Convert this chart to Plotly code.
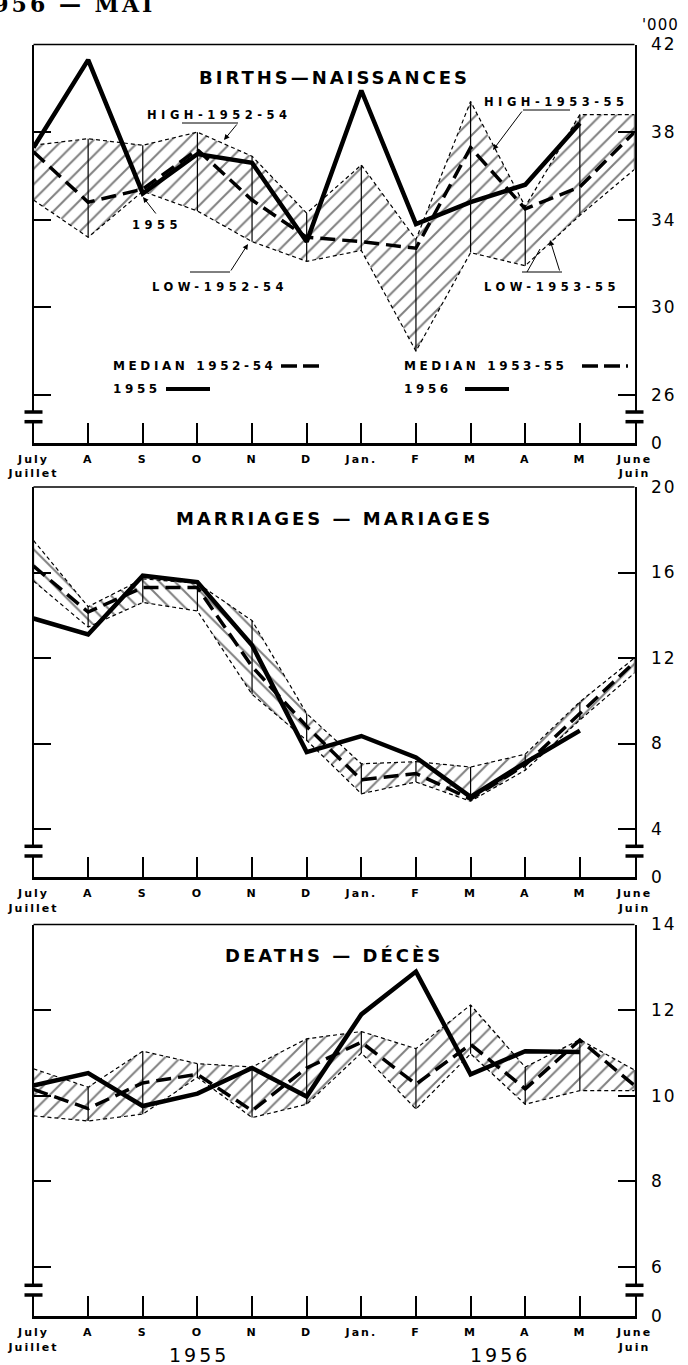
import plotly.graph_objects as go

# ---------------- data ----------------
month_labels = ["July|Juillet", "A", "S", "O", "N", "D", "Jan.", "F", "M", "A", "M", "June|Juin"]
months_x = list(range(12))

# Births ('000)
births_1955 = [37.3, 41.3, 35.2, 37.0, 36.6, 33.0]          # Jul-Dec 1955
births_1956 = [39.9, 33.8, 34.8, 35.6, 38.4]                # Jan-May 1956
births_median_5254 = [37.1, 34.8, 35.4, 37.2, 34.9, 33.2]   # Jul-Dec
births_median_5355 = [33.0, 32.7, 37.3, 34.5, 35.5, 38.0]   # Jan-Jun
births_high_5254 = [37.4, 37.7, 37.4, 38.0, 36.9, 34.3]
births_low_5254 = [34.9, 33.2, 35.3, 34.4, 33.0, 32.1]
births_high_5355 = [36.5, 33.1, 39.4, 34.6, 38.8, 38.8]
births_low_5355 = [32.6, 28.0, 32.5, 31.9, 34.2, 36.3]

# Marriages ('000)
marr_1955 = [13.85, 13.1, 15.85, 15.55, 12.6, 7.6]
marr_1956 = [8.35, 7.35, 5.5, 7.1, 8.6]
marr_median_5254 = [16.3, 14.15, 15.3, 15.3, 11.6, 8.8]
marr_median_5355 = [6.3, 6.6, 5.4, 7.0, 9.4, 11.8]
marr_high_5254 = [17.5, 14.4, 15.7, 15.5, 13.75, 9.4]
marr_low_5254 = [15.6, 13.45, 14.6, 14.2, 10.3, 8.15]
marr_high_5355 = [7.05, 7.15, 6.9, 7.5, 9.95, 12.0]
marr_low_5355 = [5.65, 6.2, 5.3, 6.75, 9.1, 11.3]

# Deaths ('000)
death_1955 = [10.24, 10.53, 9.76, 10.05, 10.65, 9.98]
death_1956 = [11.9, 12.9, 10.5, 11.04, 11.02]
death_median_5254 = [10.15, 9.7, 10.3, 10.5, 9.65, 10.65]
death_median_5355 = [11.25, 10.27, 11.2, 10.16, 11.3, 10.24]
death_high_5254 = [10.63, 10.2, 11.04, 10.75, 10.67, 11.33]
death_low_5254 = [9.53, 9.41, 9.57, 10.43, 9.49, 9.8]
death_high_5355 = [11.5, 11.1, 12.12, 10.67, 11.31, 10.6]
death_low_5355 = [11.0, 9.69, 10.98, 9.8, 10.12, 10.12]

births_ticks = [26, 30, 34, 38, 42]
marr_ticks = [4, 8, 12, 16, 20]
death_ticks = [6, 8, 10, 12, 14]

# ---------------- geometry helpers ----------------
FW, FH = 688, 1365
OFF = 0  # body margin removed in the page (see post_script)


def px(x):
    return (x - OFF) / FW


def py(y):
    return 1 - (y - OFF) / FH


def sp(t, s):
    return f'<span style="letter-spacing:{s}px">{t}</span>'


X_LEFT, X_RIGHT = 33.5, 634.5
FONT = "DejaVu Sans"

panels = [
    dict(title="BIRTHS—NAISSANCES", title_y=77, ticks=births_ticks, pt=44.5, pl=395.0, pb=442.7,
         actual=births_1955 + births_1956, median=births_median_5254 + births_median_5355,
         high=births_high_5254 + births_high_5355, low=births_low_5254 + births_low_5355,
         segs=[(0, 11, "/")]),
    dict(title="MARRIAGES — MARIAGES", title_y=518, ticks=marr_ticks, pt=487.0, pl=829.0, pb=877.0,
         actual=marr_1955 + marr_1956, median=marr_median_5254 + marr_median_5355,
         high=marr_high_5254 + marr_high_5355, low=marr_low_5254 + marr_low_5355,
         segs=[(0, 5, "\\"), (5, 11, "/")]),
    dict(title="DEATHS — DÉCÈS", title_y=956, ticks=death_ticks, pt=924.5, pl=1267.0, pb=1316.0,
         actual=death_1955 + death_1956, median=death_median_5254 + death_median_5355,
         high=death_high_5254 + death_high_5355, low=death_low_5254 + death_low_5355,
         segs=[(0, 11, "/")]),
]

fig = go.Figure()
shapes = []
annotations = []


def seg(p0, p1, w=1.0, dash="solid"):
    shapes.append(dict(type="line", xref="paper", yref="paper", x0=px(p0[0]), y0=py(p0[1]),
                       x1=px(p1[0]), y1=py(p1[1]), line=dict(color="black", width=w, dash=dash),
                       layer="above"))


def txt(x, y, t, size, bold=True, ls=0, xanchor="left", family=FONT):
    annotations.append(dict(xref="paper", yref="paper", x=px(x), y=py(y), text=sp(t, ls) if ls else t,
                            showarrow=False, xanchor=xanchor, yanchor="middle",
                            font=dict(family=family, size=size, color="black",
                                      weight="bold" if bold else "normal")))


def arrow(tip, tail):
    annotations.append(dict(xref="paper", yref="paper", x=px(tip[0]), y=py(tip[1]),
                            ax=tail[0] - tip[0], ay=tail[1] - tip[1], axref="pixel", ayref="pixel",
                            text="", showarrow=True, arrowhead=2, arrowsize=1.1, arrowwidth=1,
                            arrowcolor="black", standoff=0, startstandoff=0))


tick_month = []
for m in month_labels:
    parts = m.split("|")
    tick_month.append("<br>".join(sp(p, 2) for p in parts))

for i, p in enumerate(panels):
    n = "" if i == 0 else str(i + 1)
    xa, ya = "x" + n, "y" + n
    vt, vl = p["ticks"][-1], p["ticks"][0]
    scale = (p["pl"] - p["pt"]) / (vt - vl)
    vb = vl - (p["pb"] - p["pl"]) / scale
    p["vb"] = vb

    fig.layout["xaxis" + n] = dict(
        domain=[px(X_LEFT), px(X_RIGHT)], range=[0, 11], anchor=ya, automargin=False,
        tickvals=months_x, ticktext=tick_month, ticks="inside", ticklen=20, tickwidth=1.5,
        tickcolor="black", showline=True, linewidth=3, linecolor="black", showgrid=False,
        zeroline=False, ticklabelstandoff=4, ticklabeloverflow="allow",
        tickfont=dict(family=FONT, size=11, color="black", weight="bold"))
    fig.layout["yaxis" + n] = dict(
        domain=[py(p["pb"]), py(p["pt"])], range=[vb, vt], anchor=xa, side="right", automargin=False,
        tickvals=[vb] + p["ticks"], ticktext=[sp(str(t), 2) for t in ["0"] + [str(v) for v in p["ticks"]]],
        ticks="inside", ticklen=17, tickwidth=1.5, tickcolor="black", showline=True, linewidth=2,
        linecolor="black", mirror="ticks", showgrid=False, zeroline=False, ticklabelstandoff=11,
        ticklabeloverflow="allow",
        tickfont=dict(family=FONT, size=17, color="black"))

    # hatched band(s)
    for (a, b, shape) in p["segs"]:
        xs = months_x[a:b + 1]
        fig.add_trace(go.Scatter(x=xs, y=p["low"][a:b + 1], mode="lines", line=dict(width=0),
                                 xaxis=xa, yaxis=ya, hoverinfo="skip"))
        fig.add_trace(go.Scatter(x=xs, y=p["high"][a:b + 1], mode="lines", line=dict(width=0),
                                 fill="tonexty", fillcolor="rgba(0,0,0,0)",
                                 fillpattern=dict(shape=shape, fgcolor="black", bgcolor="rgba(0,0,0,0)",
                                                  size=11, solidity=0.18),
                                 xaxis=xa, yaxis=ya, hoverinfo="skip"))
    # band boundaries
    for arr in (p["low"], p["high"]):
        fig.add_trace(go.Scatter(x=months_x, y=arr, mode="lines",
                                 line=dict(color="black", width=1.2, dash="4px,3px"),
                                 xaxis=xa, yaxis=ya, hoverinfo="skip"))
    # vertical range lines
    vx, vy = [], []
    for k in months_x:
        vx += [k, k, None]
        vy += [p["low"][k], p["high"][k], None]
    fig.add_trace(go.Scatter(x=vx, y=vy, mode="lines", line=dict(color="black", width=1.2),
                             xaxis=xa, yaxis=ya, hoverinfo="skip"))
    # medians
    fig.add_trace(go.Scatter(x=months_x, y=p["median"], mode="lines",
                             line=dict(color="black", width=3.5, dash="15px,7px"),
                             xaxis=xa, yaxis=ya, hoverinfo="skip"))
    # actual
    fig.add_trace(go.Scatter(x=months_x[:len(p["actual"])], y=p["actual"], mode="lines",
                             line=dict(color="black", width=4.5), xaxis=xa, yaxis=ya,
                             hoverinfo="skip"))

    # frame decorations
    seg((X_LEFT, p["pt"]), (X_RIGHT, p["pt"]), 1.5)
    b1, b2 = p["pb"] - 30.7, p["pb"] - 21.0
    for xa_px in (X_LEFT, X_RIGHT):
        shapes.append(dict(type="rect", xref="paper", yref="paper", x0=px(xa_px - 4), x1=px(xa_px + 4),
                           y0=py(b2), y1=py(b1), fillcolor="white", line=dict(width=0), layer="above"))
        seg((xa_px - 9, b1), (xa_px + 9, b1), 3.5)
        seg((xa_px - 9, b2), (xa_px + 9, b2), 3.5)

    txt(334, p["title_y"], p["title"], 18, bold=True, ls=3, xanchor="center")

# births annotations
txt(145, 115, "HIGH-1952-54", 11.5, ls=4.5)
seg((182, 123), (238, 123))
arrow((224, 140), (238, 123))
txt(130, 225, "1955", 11.5, ls=4.5)
arrow((143, 197), (157, 215))
txt(150, 287, "LOW-1952-54", 11.5, ls=4.5)
seg((190, 272), (230, 272))
arrow((248, 244), (230, 272))
txt(482, 102, "HIGH-1953-55", 11.5, ls=4.5)
seg((523, 110), (570, 110))
arrow((493, 150), (523, 110))
txt(482, 287, "LOW-1953-55", 11.5, ls=4.5)
seg((522, 272), (562, 272))
arrow((550, 240), (560, 272))
seg((527, 272), (540, 249))

# legend
txt(111, 366, "MEDIAN 1952-54", 12, ls=3.6)
seg((281, 366), (325, 366), 3.5, "16px,6px")
txt(111, 389, "1955", 12, ls=3.6)
seg((166, 389), (210, 389), 4)
txt(402, 366, "MEDIAN 1953-55", 12, ls=3.6)
seg((582, 366), (628, 366), 3.5, "16px,6px")
txt(402, 389, "1956", 12, ls=3.6)
seg((465, 389), (509, 389), 4)

# page texts
txt(157, 4, "1956 — MAI", 22, bold=True, ls=3, xanchor="right", family="DejaVu Serif")
txt(660, 25, "'000", 15, bold=False, ls=1, xanchor="center")
txt(199, 1355, "1955", 19, bold=False, ls=3, xanchor="center")
txt(500, 1355, "1956", 19, bold=False, ls=3, xanchor="center")

fig.update_layout(width=FW, height=FH, margin=dict(l=0, r=0, t=0, b=0, pad=0),
                  paper_bgcolor="white", plot_bgcolor="white", showlegend=False,
                  hovermode=False, shapes=shapes, annotations=annotations)

fig.write_html("out.html", config={"displayModeBar": False},
               post_script="document.body.style.margin='0px';")
